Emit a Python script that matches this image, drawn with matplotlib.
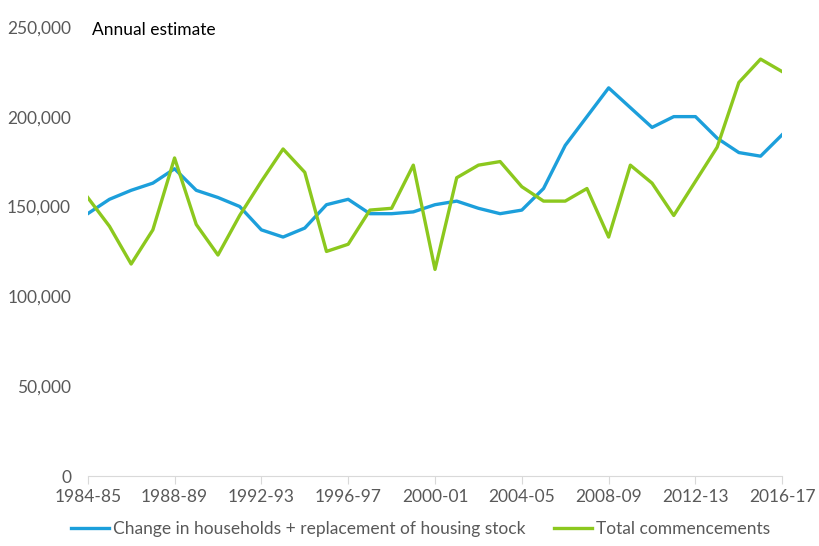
import matplotlib

matplotlib.use("Agg")
import matplotlib.pyplot as plt
import numpy as np
from matplotlib.ticker import FuncFormatter

plt.rcParams["font.family"] = ["Lato", "DejaVu Sans"]

years = [f"{y}-{str(y + 1)[-2:]}" for y in range(1984, 2017)]
tick_labels = ["1984-85", "1988-89", "1992-93", "1996-97", "2000-01",
               "2004-05", "2008-09", "2012-13", "2016-17"]

households = [146000, 154000, 159000, 163000, 171000, 159000, 155000, 150000,
              137000, 133000, 138000, 151000, 154000, 146000, 146000, 147000,
              151000, 153000, 149000, 146000, 148000, 160000, 184000, 200000,
              216000, 205000, 194000, 200000, 200000, 188000, 180000, 178000,
              190000]
commencements = [155000, 139000, 118000, 137000, 177000, 140000, 123000, 145000,
                 164000, 182000, 169000, 125000, 129000, 148000, 149000, 173000,
                 115000, 166000, 173000, 175000, 161000, 153000, 153000, 160000,
                 133000, 173000, 163000, 145000, 164000, 183000, 219000, 232000,
                 225000]

BLUE = "#1c9fdb"
GREEN = "#8cc81e"
GREY = "#595959"

fig = plt.figure(figsize=(8.2, 5.46), dpi=100)
ax = fig.add_axes([0.107, 0.128, 0.847, 0.823])

x = np.arange(len(years))
ax.plot(x, households, color=BLUE, linewidth=2.4, solid_joinstyle="round",
        label="Change in households + replacement of housing stock")
ax.plot(x, commencements, color=GREEN, linewidth=2.4, solid_joinstyle="round",
        label="Total commencements")

ax.set_xlim(0, len(years) - 1)
ax.set_ylim(0, 250000)
ax.set_yticks(range(0, 250001, 50000))
ax.yaxis.set_major_formatter(FuncFormatter(lambda v, _: f"{int(v):,}"))
ax.set_xticks([years.index(t) for t in tick_labels])
ax.set_xticklabels(tick_labels)

for side in ["left", "right", "top"]:
    ax.spines[side].set_visible(False)
ax.spines["bottom"].set_color("#d9d9d9")
ax.tick_params(axis="y", length=0, pad=12, labelsize=12.5, labelcolor=GREY)
ax.tick_params(axis="x", length=6, color="#d9d9d9", pad=3, labelsize=12.5,
               labelcolor=GREY)

ax.text(0.006, 0.993, "Annual estimate", transform=ax.transAxes, fontsize=12.5,
        color="black", va="center", ha="left")

fig.legend(loc="lower center", ncol=2, frameon=False, fontsize=12.5,
           bbox_to_anchor=(0.513, -0.012), handlelength=2.2, handletextpad=0.25,
           columnspacing=1.6, labelcolor=GREY)

fig.savefig("out.png", dpi=100)
